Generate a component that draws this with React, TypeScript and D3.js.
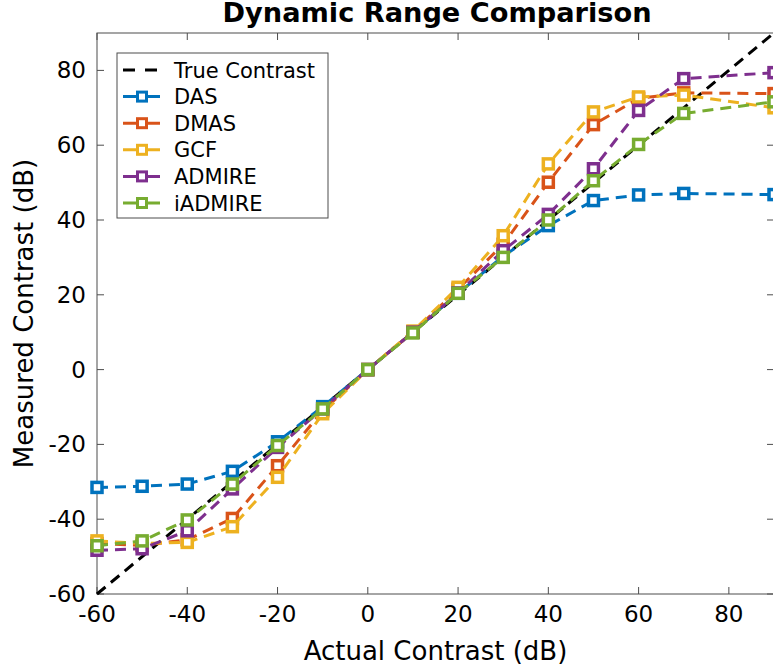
import React from "react";
import * as d3 from "d3";

const xValues = [-60, -50, -40, -30, -20, -10, 0, 10, 20, 30, 40, 50, 60, 70, 90];
const dasValues = [-31.5, -31.2, -30.6, -27.2, -19.3, -9.9, 0, 10, 20.4, 30.3, 38.5, 45.2, 46.7, 47.1, 46.8];
const dmasValues = [-46.5, -47.0, -45.5, -39.8, -25.7, -11.0, 0, 10, 21.5, 33.5, 50.1, 65.5, 72.5, 74.0, 73.8];
const gcfValues = [-45.8, -46.5, -46.2, -42.0, -28.8, -11.8, 0, 10.3, 22.0, 35.8, 55.0, 68.9, 72.9, 73.4, 70.0];
const admireValues = [-48.3, -47.9, -43.1, -31.9, -20.8, -10.5, 0, 10, 20.5, 31.8, 41.5, 53.7, 69.3, 77.8, 79.4];
const iadmireValues = [-47.1, -45.8, -40.2, -30.6, -20.3, -10.5, 0, 9.8, 20.4, 30.0, 40.0, 50.5, 60.2, 68.5, 71.6];
const trueContrast = [-60, 90];
const xTicks = [-60, -40, -20, 0, 20, 40, 60, 80];
const yTicks = [-60, -40, -20, 0, 20, 40, 60, 80];

const seriesNames = ["DAS", "DMAS", "GCF", "ADMIRE", "iADMIRE"];
const seriesColors = ["#0072BD", "#D95319", "#EDB120", "#7E2F8E", "#77AC30"];
const seriesData = [dasValues, dmasValues, gcfValues, admireValues, iadmireValues];

const W = 773;
const H = 672;
const left = 97;
const right = 774;
const top = 33;
const bottom = 594;
const font = "DejaVu Sans, sans-serif";
const axisColor = "#4d4d4d";

export default function App() {
  const x = d3.scaleLinear().domain([-60, 90]).range([left, right]);
  const y = d3.scaleLinear().domain([-60, 90]).range([bottom, top]);
  const line = d3
    .line<[number, number]>()
    .x((d) => x(d[0]))
    .y((d) => y(d[1]));

  const dash = "11 7";
  const ms = 10;

  const legendRows = [
    { name: "True Contrast", color: "#000", marker: false },
    ...seriesNames.map((n, i) => ({ name: n, color: seriesColors[i], marker: true })),
  ];

  return (
    <svg
      width={W}
      height={H}
      style={{ position: "fixed", left: 0, top: 0, background: "#fff" }}
    >
      <rect x={0} y={0} width={W} height={H} fill="#fff" />
      {/* title */}
      <text
        x={437}
        y={22}
        textAnchor="middle"
        fontFamily={font}
        fontWeight="bold"
        fontSize={26}
        textLength={429}
        lengthAdjust="spacingAndGlyphs"
        fill="#000"
      >
        Dynamic Range Comparison
      </text>

      {/* axes box */}
      <rect
        x={left}
        y={top}
        width={right - left}
        height={bottom - top}
        fill="none"
        stroke={axisColor}
        strokeWidth={1}
      />
      {xTicks.map((t) => (
        <g key={"xt" + t}>
          <line x1={x(t)} x2={x(t)} y1={bottom} y2={bottom - 7} stroke={axisColor} />
          <line x1={x(t)} x2={x(t)} y1={top} y2={top + 7} stroke={axisColor} />
          <text
            x={x(t)}
            y={bottom + 28}
            textAnchor="middle"
            fontFamily={font}
            fontSize={23}
            fill="#000"
          >
            {t}
          </text>
        </g>
      ))}
      {yTicks.map((t) => (
        <g key={"yt" + t}>
          <line x1={left} x2={left + 7} y1={y(t)} y2={y(t)} stroke={axisColor} />
          <line x1={right} x2={right - 7} y1={y(t)} y2={y(t)} stroke={axisColor} />
          <text
            x={left - 11}
            y={y(t) + 8}
            textAnchor="end"
            fontFamily={font}
            fontSize={23}
            fill="#000"
          >
            {t}
          </text>
        </g>
      ))}

      <text
        x={(left + right) / 2}
        y={660}
        textAnchor="middle"
        fontFamily={font}
        fontSize={26}
        fill="#000"
      >
        Actual Contrast (dB)
      </text>
      <text
        transform={`translate(33, ${(top + bottom) / 2}) rotate(-90)`}
        textAnchor="middle"
        fontFamily={font}
        fontSize={26}
        fill="#000"
      >
        Measured Contrast (dB)
      </text>

      {/* true contrast */}
      <path
        d={line(trueContrast.map((v) => [v, v] as [number, number])) || ""}
        fill="none"
        stroke="#000"
        strokeWidth={3}
        strokeDasharray={dash}
      />

      {seriesData.map((vals, si) => {
        const pts = xValues.map((xv, i) => [xv, vals[i]] as [number, number]);
        return (
          <g key={"s" + si}>
            <path
              d={line(pts) || ""}
              fill="none"
              stroke={seriesColors[si]}
              strokeWidth={3}
              strokeDasharray={dash}
            />
            {pts.map((p, i) => (
              <rect
                key={i}
                x={x(p[0]) - ms / 2}
                y={y(p[1]) - ms / 2}
                width={ms}
                height={ms}
                fill="#fff"
                stroke={seriesColors[si]}
                strokeWidth={3.5}
              />
            ))}
          </g>
        );
      })}

      {/* legend */}
      <rect x={117} y={53} width={211} height={165} fill="#fff" stroke={axisColor} strokeWidth={1} />
      {legendRows.map((r, i) => {
        const cy = 70 + i * 26.6;
        return (
          <g key={"lg" + i}>
            {r.marker ? (
              <>
                <line x1={123} x2={160} y1={cy} y2={cy} stroke={r.color} strokeWidth={3} />
                <rect
                  x={142 - 4.5}
                  y={cy - 4.5}
                  width={9}
                  height={9}
                  fill="#fff"
                  stroke={r.color}
                  strokeWidth={3}
                />
              </>
            ) : (
              <line
                x1={123}
                x2={160}
                y1={cy}
                y2={cy}
                stroke={r.color}
                strokeWidth={3}
                strokeDasharray="12 10"
              />
            )}
            <text x={174} y={cy + 7.5} fontFamily={font} fontSize={21} fill="#000">
              {r.name}
            </text>
          </g>
        );
      })}
    </svg>
  );
}
